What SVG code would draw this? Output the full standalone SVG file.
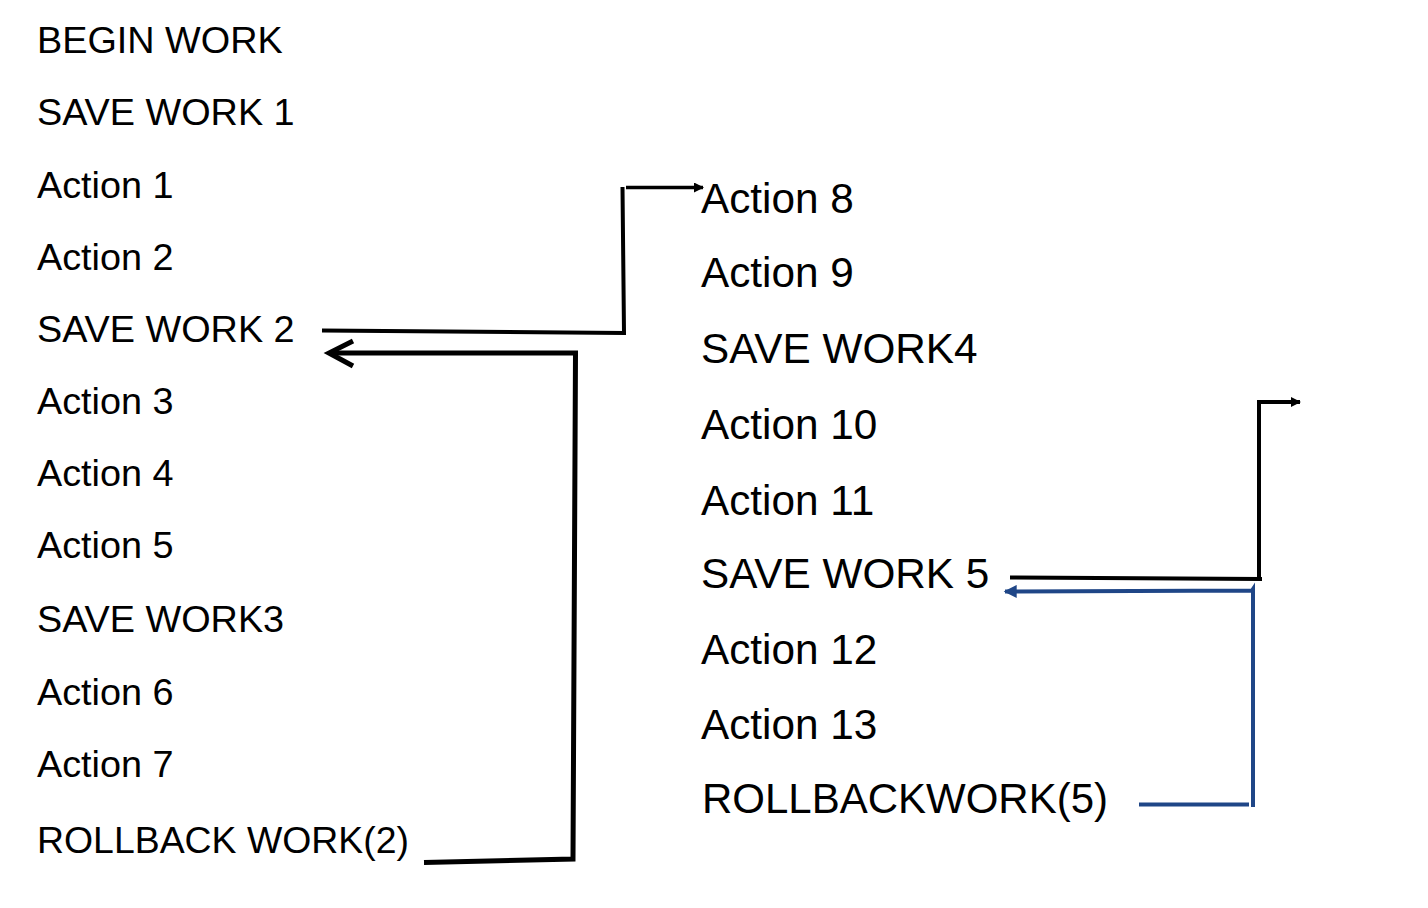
<svg xmlns="http://www.w3.org/2000/svg" width="1428" height="908" viewBox="0 0 1428 908">
<style>
text{font-family:"Liberation Sans",Arial,Helvetica,sans-serif;fill:#000}
.l{font-size:37.8px}
.r{font-size:42.3px}
.k{fill:none;stroke:#000;stroke-linejoin:miter;stroke-linecap:butt}
.b{fill:none;stroke:#1F4687;stroke-linejoin:miter}
</style>
<defs>
<marker id="tri" viewBox="0 0 10 10" refX="9" refY="5" markerWidth="10" markerHeight="10" markerUnits="userSpaceOnUse" orient="auto">
<path d="M0,0 L10,5 L0,10 Z" fill="#000"/>
</marker>
<marker id="triB" viewBox="0 0 10 10" refX="9" refY="5" markerWidth="15" markerHeight="13" markerUnits="userSpaceOnUse" orient="auto">
<path d="M0,0 L10,5 L0,10 Z" fill="#1F4687"/>
</marker>
</defs>
<rect width="1428" height="908" fill="#fff"/>
<g id="left-column">
<g id="n-begin"><text class="l" x="37" y="53">BEGIN WORK</text></g>
<g id="n-save1"><text class="l" x="37" y="125">SAVE WORK 1</text></g>
<g id="n-a1"><text class="l" x="37" y="198">Action 1</text></g>
<g id="n-a2"><text class="l" x="37" y="270">Action 2</text></g>
<g id="n-save2"><text class="l" x="37" y="342">SAVE WORK 2</text></g>
<g id="n-a3"><text class="l" x="37" y="414">Action 3</text></g>
<g id="n-a4"><text class="l" x="37" y="486">Action 4</text></g>
<g id="n-a5"><text class="l" x="37" y="558">Action 5</text></g>
<g id="n-save3"><text class="l" x="37" y="632">SAVE WORK3</text></g>
<g id="n-a6"><text class="l" x="37" y="705">Action 6</text></g>
<g id="n-a7"><text class="l" x="37" y="777">Action 7</text></g>
<g id="n-rb2"><text class="l" x="37" y="853" textLength="372" lengthAdjust="spacingAndGlyphs">ROLLBACK WORK(2)</text></g>
</g>
<g id="right-column">
<g id="n-a8"><text class="r" x="701" y="213">Action 8</text></g>
<g id="n-a9"><text class="r" x="701" y="287">Action 9</text></g>
<g id="n-save4"><text class="r" x="701" y="363">SAVE WORK4</text></g>
<g id="n-a10"><text class="r" x="701" y="439">Action 10</text></g>
<g id="n-a11"><text class="r" x="701" y="515">Action 11</text></g>
<g id="n-save5"><text class="r" x="701" y="588">SAVE WORK 5</text></g>
<g id="n-a12"><text class="r" x="701" y="664">Action 12</text></g>
<g id="n-a13"><text class="r" x="701" y="739">Action 13</text></g>
<g id="n-rb5"><text class="r" x="702" y="813" textLength="406" lengthAdjust="spacingAndGlyphs">ROLLBACKWORK(5)</text></g>
</g>
<g id="connectors">
<path class="k" stroke-width="4" d="M322,330.5 L624,333 L622.5,187"/>
<path class="k" stroke-width="3.5" d="M626,187.5 L703,187.5" marker-end="url(#tri)"/>
<path class="k" stroke-width="5" d="M424,862.5 L573,859 L575.5,353 L330,353"/>
<path class="k" stroke-width="5" stroke-linecap="round" d="M353,341 L329,353 L353,366"/>
<path class="k" stroke-width="4" d="M1010,577.5 L1262,579"/>
<path class="k" stroke-width="4" d="M1259,579 L1259,402 L1300,402" marker-end="url(#tri)"/>
<path class="b" stroke-width="4" d="M1139,804.5 L1249,804.5"/>
<path class="b" stroke-width="4" d="M1253,807 L1253,589 L1252,590.5 L1005,591.5" marker-end="url(#triB)"/>
</g>
</svg>
